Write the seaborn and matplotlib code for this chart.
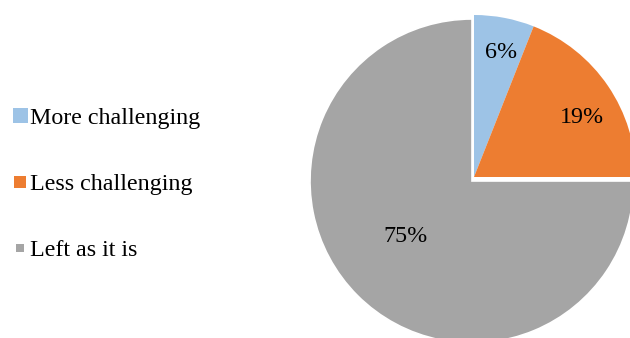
import matplotlib
matplotlib.use("Agg")
import numpy as np
import matplotlib.pyplot as plt
from matplotlib.lines import Line2D
import seaborn as sns

# Survey answers: how the task should be changed
categories = ["More challenging", "Less challenging", "Left as it is"]
shares = [6, 19, 75]
slice_colors = ["#9DC3E6", "#ED7D31", "#A5A5A5"]

sns.set_theme(style="white")
plt.rcParams["font.family"] = ["Liberation Serif", "DejaVu Serif"]
plt.rcParams["text.color"] = "black"

W, H = 630, 338
fig = plt.figure(figsize=(W / 100, H / 100), dpi=100)
ax = fig.add_axes([0, 0, 1, 1])

pct = lambda p: f"{p:.0f}%"
font = dict(fontsize=17.3, color="black")
R = 162
base_center = (472, 157)
top_center = (474, 161)

# Base layer: the large grey slice
w_base, _, t_base = ax.pie(
    shares, colors=slice_colors, startangle=90, counterclock=False,
    center=base_center, radius=R, autopct=pct, textprops=font,
    wedgeprops=dict(edgecolor="white", linewidth=1.2), frame=True,
)
# Pulled-out layer: the two smaller slices, shifted slightly up and right
w_top, _, t_top = ax.pie(
    shares, colors=slice_colors, startangle=90, counterclock=False,
    center=top_center, radius=R, autopct=pct, textprops=font,
    wedgeprops=dict(linewidth=0), frame=True,
)

# label placement: fraction of radius and angular nudge from the wedge middle
label_dist = [0.79, 0.76, 0.535]
label_turn = [-1.6, -5.2, -5.6]
for i in range(len(shares)):
    if i < 2:
        w_base[i].set_visible(False)
        t_base[i].set_visible(False)
        wedge, txt, c = w_top[i], t_top[i], top_center
    else:
        w_top[i].set_visible(False)
        t_top[i].set_visible(False)
        wedge, txt, c = w_base[i], t_base[i], base_center
    mid = np.deg2rad((wedge.theta1 + wedge.theta2) / 2 + label_turn[i])
    d = label_dist[i] * R
    txt.set_position((c[0] + d * np.cos(mid), c[1] + d * np.sin(mid)))

ax.set_xlim(0, W)
ax.set_ylim(0, H)
ax.set_aspect("equal")
ax.axis("off")

handles = [
    Line2D([], [], marker="s", linestyle="none", markersize=ms,
           markerfacecolor=c, markeredgewidth=0)
    for c, ms in zip(slice_colors, [10.8, 9.2, 5.8])
]
fig.legend(
    handles, categories, loc="upper left",
    bbox_to_anchor=(12.3 / W, 1 - 107 / H),
    frameon=False, fontsize=17.3, borderpad=0, borderaxespad=0,
    handlelength=0.6, handletextpad=0.15, labelspacing=1.85,
    labelcolor="black",
)

fig.savefig("out.png", dpi=100)
